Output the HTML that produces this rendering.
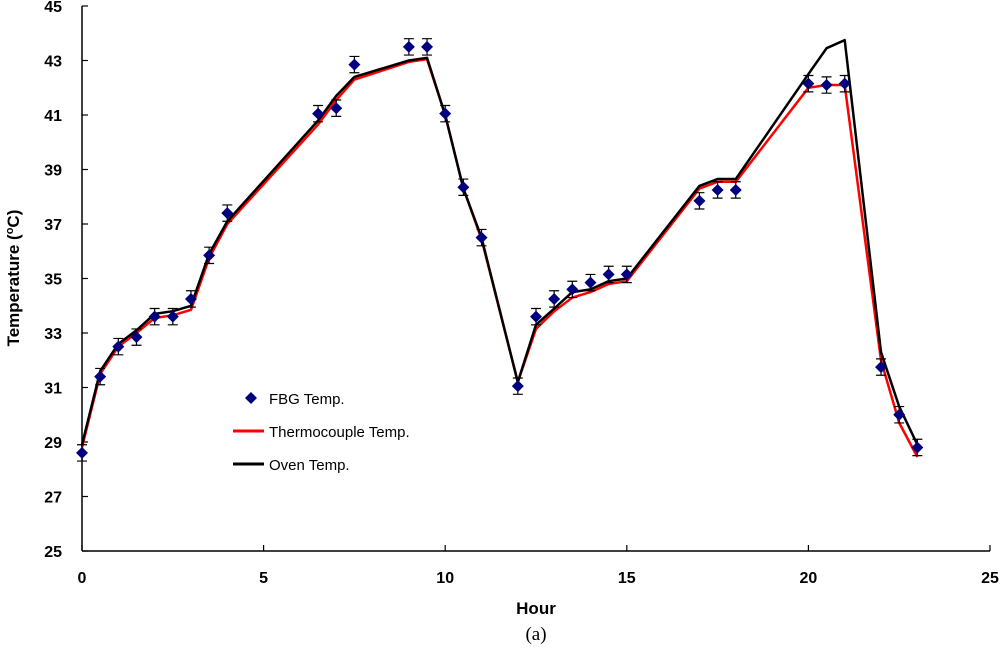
<!DOCTYPE html>
<html><head><meta charset="utf-8"><style>
html,body{margin:0;padding:0;background:#fff;}
svg{display:block;font-family:"Liberation Sans",Arial,sans-serif;}
</style></head><body>
<svg id="chart" width="1000" height="659" viewBox="0 0 1000 659">
<g id="axes"></g>
<g id="series"></g>
<text transform="translate(19,278) rotate(-90)" text-anchor="middle" font-weight="bold" font-size="17">Temperature (<tspan font-size="11" dy="-6">o</tspan><tspan dy="6">C)</tspan></text>
<text x="536" y="614" text-anchor="middle" font-weight="bold" font-size="17">Hour</text>
<text x="536" y="640" text-anchor="middle" font-family="Liberation Serif, serif" font-size="19">(a)</text>
<g>
<g><path d="M251 392 l6 6 l-6 6 l-6 -6z" fill="#00007f"/><text x="269" y="404" font-size="15">FBG Temp.</text></g>
<g><line x1="233" y1="431" x2="264" y2="431" stroke="#ff0000" stroke-width="3"/><text x="269" y="437" font-size="15">Thermocouple Temp.</text></g>
<g><line x1="233" y1="464" x2="264" y2="464" stroke="#000" stroke-width="3"/><text x="269" y="470" font-size="15">Oven Temp.</text></g>
</g>
</svg>
<script>
const hours = [0,0.5,1,1.5,2,2.5,3,3.5,4,6.5,7,7.5,9,9.5,10,10.5,11,12,12.5,13,13.5,14,14.5,15,17,17.5,18,20,20.5,21,22,22.5,23];
const fbgTemp = [28.6,31.4,32.5,32.85,33.6,33.6,34.25,35.85,37.4,41.05,41.25,42.85,43.5,43.5,41.05,38.35,36.5,31.05,33.6,34.25,34.6,34.85,35.15,35.15,37.85,38.25,38.25,42.15,42.1,42.15,31.75,30.0,28.8];
const thermoTemp = [28.8,31.5,32.5,33.0,33.55,33.65,33.85,35.75,37.0,40.65,41.55,42.3,42.95,43.05,41.0,38.3,36.45,31.2,33.15,33.8,34.3,34.5,34.8,34.9,38.3,38.55,38.55,42.0,42.1,42.1,32.0,29.7,28.45];
const ovenTemp = [28.9,31.6,32.6,33.1,33.7,33.8,34.0,35.9,37.1,40.8,41.7,42.4,43.0,43.1,41.0,38.3,36.5,31.2,33.3,33.9,34.5,34.6,34.9,35.0,38.4,38.65,38.65,42.5,43.45,43.75,32.3,30.3,28.9];
const fbgErr = 0.3;
const xTicks = [0,5,10,15,20,25];
const yTicks = [25,27,29,31,33,35,37,39,41,43,45];

const NS = "http://www.w3.org/2000/svg";
const X0=82, X1=990, Y0=551, Y1=6;
const xs = v => X0 + (v-0)/(25-0)*(X1-X0);
const ys = v => Y0 - (v-25)/(45-25)*(Y0-Y1);
function mk(tag, attrs, parent){const e=document.createElementNS(NS,tag);for(const k in attrs)e.setAttribute(k,attrs[k]);parent.appendChild(e);return e;}
const axes=document.getElementById('axes'), series=document.getElementById('series');

let e;
e=mk('line',{x1:X0,y1:Y1,x2:X0,y2:Y0,stroke:'#000','stroke-width':1.5},axes);


e=mk('line',{x1:X0,y1:Y0,x2:X1,y2:Y0,stroke:'#000','stroke-width':1.5},axes);


yTicks.forEach(t=>{
  e=mk('line',{x1:X0,y1:ys(t),x2:X0+6,y2:ys(t),stroke:'#000','stroke-width':1.2},axes);
  
  
  e=mk('text',{x:62,y:ys(t)+6,'text-anchor':'end','font-size':16,'font-weight':'bold'},axes);
  e.textContent=t;
  
  
});
xTicks.forEach(t=>{
  e=mk('line',{x1:xs(t),y1:Y0,x2:xs(t),y2:Y0-6,stroke:'#000','stroke-width':1.2},axes);
  
  
  e=mk('text',{x:xs(t),y:583,'text-anchor':'middle','font-size':16,'font-weight':'bold'},axes);
  e.textContent=t;
  
  
});
function pts(arr){return hours.map((h,i)=>xs(h).toFixed(1)+','+ys(arr[i]).toFixed(1)).join(' ');}
e=mk('polyline',{points:pts(thermoTemp),fill:'none',stroke:'#ff0000','stroke-width':2.5,'stroke-linejoin':'round'},series);


e=mk('polyline',{points:pts(ovenTemp),fill:'none',stroke:'#000','stroke-width':2.5,'stroke-linejoin':'round'},series);


hours.forEach((h,i)=>{
  const cx=xs(h), cy=ys(fbgTemp[i]), t=ys(fbgTemp[i]+fbgErr), b=ys(fbgTemp[i]-fbgErr);
  e=mk('path',{d:`M${cx} ${t}V${b}M${cx-5} ${t}H${cx+5}M${cx-5} ${b}H${cx+5}`,stroke:'#000','stroke-width':1.2,fill:'none'},series);
  
  
  e=mk('path',{d:`M${cx} ${cy-6}l6 6l-6 6l-6 -6z`,fill:'#00007f'},series);
  
  
});
</script>
</body></html>
